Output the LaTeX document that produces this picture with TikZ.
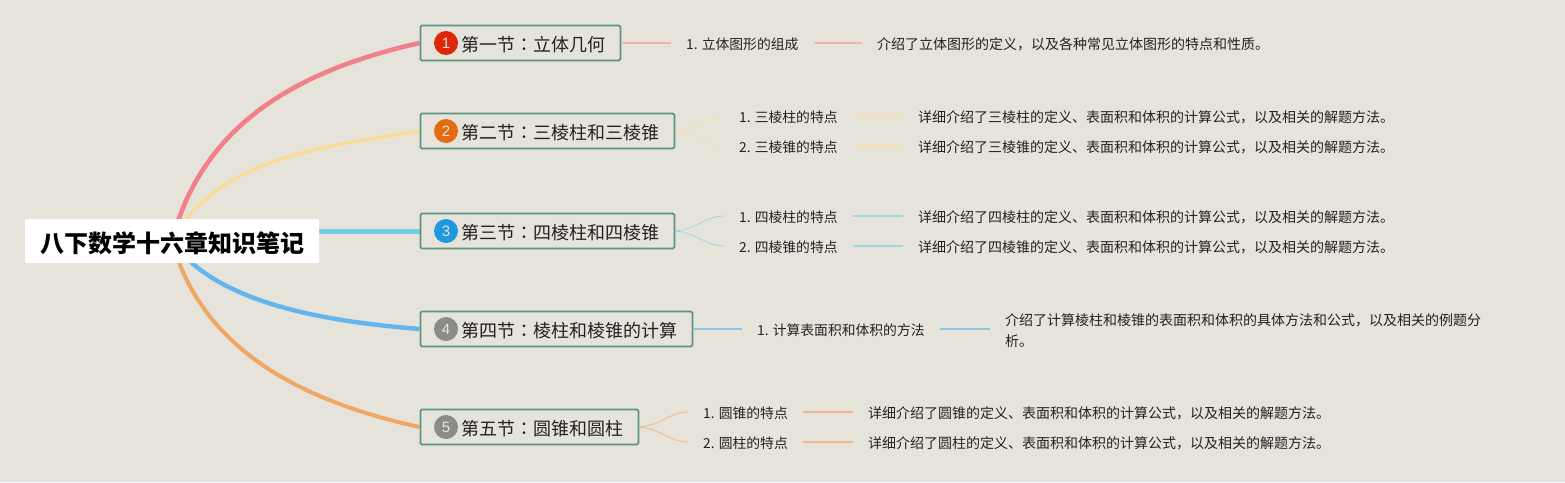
\documentclass[tikz,border=0pt]{standalone}
\usepackage{fontspec}
\setmainfont{Liberation Serif}
\newfontfamily\cjk{Noto Sans CJK SC}
\newfontfamily\cjktc{Noto Sans CJK TC}
\newfontfamily\lat{Liberation Sans}
\usetikzlibrary{backgrounds}
\definecolor{paper}{HTML}{E6E3DB}
\definecolor{boxline}{HTML}{5A9483}
\definecolor{ink}{HTML}{222222}
\definecolor{mainA}{HTML}{F0808A}
\definecolor{mainB}{HTML}{FBDB8F}
\definecolor{mainC}{HTML}{6FCFE3}
\definecolor{mainD}{HTML}{62B5EE}
\definecolor{mainE}{HTML}{EFA763}
\definecolor{subA}{HTML}{F1AFAE}
\definecolor{subB}{HTML}{F8E2A8}
\definecolor{subC}{HTML}{9BD8E4}
\definecolor{subD}{HTML}{8CC6E8}
\definecolor{subE}{HTML}{F0B68A}
\newcommand{\clnm}{{\cjktc ：}}
\tikzset{
  x=1pt,y=-1pt,
  rootbox/.style={fill=white,rounded corners=2pt,minimum width=294pt,minimum height=44pt,inner sep=0pt,text=black,text height=22pt,text depth=0pt,font=\cjk\bfseries\fontsize{24}{24}\selectfont},
  secbox/.style={draw=boxline,line width=1.8pt,fill=paper,rounded corners=1.5pt,anchor=west,minimum height=35pt,inner ysep=0pt,inner xsep=0pt,text=ink,text height=16pt,text depth=0pt,font=\cjk\fontsize{18}{18}\selectfont},
  badge/.style={circle,minimum size=24pt,inner sep=0pt,text=paper,font=\lat\fontsize{15}{15}\selectfont},
  itembox/.style={anchor=west,inner xsep=15pt,inner ysep=2pt,text=ink,text height=12pt,text depth=0pt,font=\cjk\fontsize{13.8}{16}\selectfont},
  descbox/.style={anchor=west,inner xsep=15pt,inner ysep=2pt,text=ink,text height=12pt,text depth=0pt,font=\cjk\fontsize{14}{16}\selectfont},
  desctwo/.style={anchor=west,inner xsep=15pt,inner ysep=2pt,text=ink,align=left,font=\cjk\fontsize{14}{21}\selectfont},
  sublink/.style={line width=1.1pt},
  forklink/.style={line width=.8pt},
}
\begin{document}
\begin{tikzpicture}
\useasboundingbox (0,0) rectangle (1565,482);
\begin{pgfonlayer}{background}
\fill[paper] (0,0) rectangle (1565,482);
\end{pgfonlayer}
\node[rootbox] (root) at (172,241) {八下数学十六章知识笔记};
\node[secbox] (s1) at (419.5,43) {\hspace*{41.5pt}第一节\clnm 立体几何\hspace*{14.5pt}};
\node[secbox] (s2) at (419.5,131) {\hspace*{41.5pt}第二节\clnm 三棱柱和三棱锥\hspace*{14.5pt}};
\node[secbox] (s3) at (419.5,231) {\hspace*{41.5pt}第三节\clnm 四棱柱和四棱锥\hspace*{14.5pt}};
\node[secbox] (s4) at (419.5,329) {\hspace*{41.5pt}第四节\clnm 棱柱和棱锥的计算\hspace*{14.5pt}};
\node[secbox] (s5) at (419.5,427) {\hspace*{41.5pt}第五节\clnm 圆锥和圆柱\hspace*{14.5pt}};
\node[badge,fill={rgb,255:red,221;green,38;blue,10}] (b1) at (446,43) {1};
\node[badge,fill={rgb,255:red,229;green,106;blue,20}] (b2) at (446,131) {2};
\node[badge,fill={rgb,255:red,30;green,152;blue,223}] (b3) at (446,231) {3};
\node[badge,fill={rgb,255:red,139;green,139;blue,136}] (b4) at (446,329) {4};
\node[badge,fill={rgb,255:red,139;green,139;blue,136}] (b5) at (446,427) {5};
% row 1
\node[itembox] (i1) at (671,43) {1. {\cjk 立体图形的组成}};
\node[descbox] (d1) at (862,43) {介绍了立体图形的定义，以及各种常见立体图形的特点和性质。};
% row 2
\node[itembox] (i2a) at (724,116) {1. {\cjk 三棱柱的特点}};
\node[itembox] (i2b) at (724,146) {2. {\cjk 三棱锥的特点}};
\node[descbox] (d2a) at (903,116) {详细介绍了三棱柱的定义、表面积和体积的计算公式，以及相关的解题方法。};
\node[descbox] (d2b) at (903,146) {详细介绍了三棱锥的定义、表面积和体积的计算公式，以及相关的解题方法。};
% row 3
\node[itembox] (i3a) at (724,216) {1. {\cjk 四棱柱的特点}};
\node[itembox] (i3b) at (724,246) {2. {\cjk 四棱锥的特点}};
\node[descbox] (d3a) at (903,216) {详细介绍了四棱柱的定义、表面积和体积的计算公式，以及相关的解题方法。};
\node[descbox] (d3b) at (903,246) {详细介绍了四棱锥的定义、表面积和体积的计算公式，以及相关的解题方法。};
% row 4
\node[itembox] (i4) at (742,329) {1. {\cjk 计算表面积和体积的方法}};
\node[desctwo] (d4) at (990,331) {介绍了计算棱柱和棱锥的表面积和体积的具体方法和公式，以及相关的例题分\\析。};
% row 5
\node[itembox] (i5a) at (688,412) {1. {\cjk 圆锥的特点}};
\node[itembox] (i5b) at (688,442) {2. {\cjk 圆柱的特点}};
\node[descbox] (d5a) at (853,412) {详细介绍了圆锥的定义、表面积和体积的计算公式，以及相关的解题方法。};
\node[descbox] (d5b) at (853,442) {详细介绍了圆柱的定义、表面积和体积的计算公式，以及相关的解题方法。};
\begin{pgfonlayer}{background}
\draw[mainB,line width=3pt] (root.center) .. controls +(45,-85) and +(-90,15) .. (s2.west);
\draw[mainA,line width=4.6pt] (root.center) .. controls +(30,-115) and +(-125,28) .. (s1.west);
\draw[mainC,line width=5pt] (root.east |- s3.west) -- (s3.west);
\draw[mainD,line width=4.4pt] (root.center) .. controls +(45,65) and +(-85,-7) .. (s4.west);
\draw[mainE,line width=4pt] (root.center) .. controls +(30,110) and +(-115,-25) .. (s5.west);
\end{pgfonlayer}
\draw[subA,sublink] (s1.east) -- (i1.west);
\draw[subA,sublink] (i1.east) -- (d1.west);
\draw[subB,forklink] (s2.east) .. controls +(22,-2) and +(-18,0) .. (i2a.west);
\draw[subB,forklink] (s2.east) .. controls +(22,2) and +(-18,0) .. (i2b.west);
\draw[subB,sublink] (i2a.east) -- (d2a.west);
\draw[subB,sublink] (i2b.east) -- (d2b.west);
\draw[subC,forklink] (s3.east) .. controls +(22,-2) and +(-18,0) .. (i3a.west);
\draw[subC,forklink] (s3.east) .. controls +(22,2) and +(-18,0) .. (i3b.west);
\draw[subC,sublink] (i3a.east) -- (d3a.west);
\draw[subC,sublink] (i3b.east) -- (d3b.west);
\draw[subD,sublink] (s4.east) -- (i4.west);
\draw[subD,sublink] (i4.east) -- (i4.east -| d4.west);
\draw[subE,forklink] (s5.east) .. controls +(22,-2) and +(-18,0) .. (i5a.west);
\draw[subE,forklink] (s5.east) .. controls +(22,2) and +(-18,0) .. (i5b.west);
\draw[subE,sublink] (i5a.east) -- (d5a.west);
\draw[subE,sublink] (i5b.east) -- (d5b.west);
\end{tikzpicture}
\end{document}
